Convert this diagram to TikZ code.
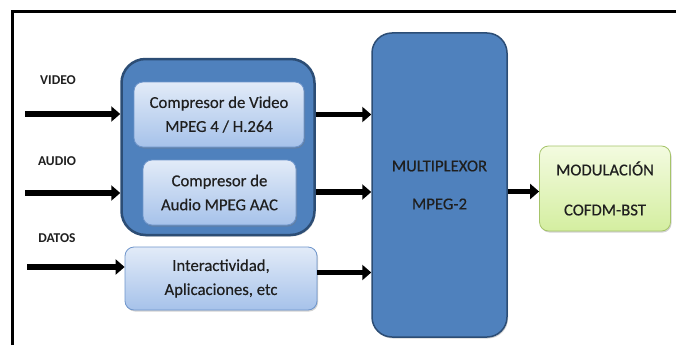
\documentclass[tikz,border=0pt]{standalone}
\usepackage{fontspec}
\setmainfont{Carlito}
\newfontfamily\medfont{Carlito}[FakeBold=0.35]
\usetikzlibrary{arrows.meta,shadows}
\definecolor{blueA}{HTML}{4F81BD}
\definecolor{blueEdge}{HTML}{2C4D75}
\definecolor{lightTop}{HTML}{E2EBF8}
\definecolor{lightBot}{HTML}{A6C2EA}
\definecolor{lightEdge}{HTML}{6E95CB}
\definecolor{greenTop}{HTML}{F3FBE0}
\definecolor{greenBot}{HTML}{D4EEA0}
\definecolor{greenEdge}{HTML}{A6C46A}
\definecolor{txt}{HTML}{1F1F1F}
\tikzset{
  x=1pt, y=-1pt,
  frameline/.style={line width=3pt, black},
  bigblue/.style={draw=blueEdge, fill=blueA, rectangle, inner sep=0pt,
    drop shadow={shadow xshift=1pt, shadow yshift=-1.5pt, opacity=0.35}},
  lightbox/.style={draw=lightEdge, line width=0.8pt, rectangle, rounded corners=9pt,
    top color=lightTop, bottom color=lightBot, inner sep=0pt, align=center,
    font=\medfont\fontsize{16.7}{24}\selectfont, text=txt,
    drop shadow={shadow xshift=1pt, shadow yshift=-1.5pt, opacity=0.35}},
  greenbox/.style={draw=greenEdge, line width=0.8pt, rectangle, rounded corners=9pt,
    top color=greenTop, bottom color=greenBot, inner sep=0pt, align=center,
    font=\medfont\fontsize{16.7}{40}\selectfont, text=txt,
    drop shadow={shadow xshift=1pt, shadow yshift=-1.5pt, opacity=0.35}},
  sigtag/.style={font=\bfseries\fontsize{13.5}{14}\selectfont, text=txt},
  flow/.style={line width=5.5pt, -{Triangle[length=9pt, width=15pt]}, shorten >=0pt}
}
\begin{document}
\begin{tikzpicture}
\useasboundingbox (0,0) rectangle (676,345);
\fill[white] (0,0) rectangle (676,345);

% outer frame (top and left edges)
\draw[frameline] (12,345) -- (12,12) -- (676,12);

% compression group
\node[bigblue, line width=2.5pt, rounded corners=24pt,
      minimum width=193pt, minimum height=176pt] (grupo) at (218,147) {};
\node[lightbox, minimum width=170pt, minimum height=65pt] (video) at (219,114.5)
  {Compresor de Video\\MPEG 4 / H.264};
\node[lightbox, minimum width=153pt, minimum height=65pt] (audio) at (219.5,192.5)
  {Compresor de\\Audio MPEG AAC};
\node[lightbox, minimum width=192pt, minimum height=63pt] (datos) at (221,278.5)
  {Interactividad,\\Aplicaciones, etc};

% multiplexer
\node[bigblue, line width=1.5pt, rounded corners=20pt,
      minimum width=135pt, minimum height=304pt, align=center,
      font=\medfont\fontsize{16.7}{38}\selectfont, text=txt] (mux) at (439.5,185)
  {MULTIPLEXOR\\MPEG-2};

% modulation
\node[greenbox, minimum width=131pt, minimum height=85pt] (mod) at (605,188.5)
  {MODULACIÓN\\COFDM-BST};

% input labels
\node[sigtag] (lv) at (58,80) {VIDEO};
\node[sigtag] (la) at (57,161) {AUDIO};
\node[sigtag] (ld) at (57,238) {DATOS};

% input arrows
\coordinate (inV) at (25,114);
\coordinate (inA) at (25,193);
\coordinate (inD) at (27,267);
\draw[flow] (inV) -- (inV -| grupo.west);
\draw[flow] (inA) -- (inA -| grupo.west);
\draw[flow] (inD) -- (inD -| datos.west);

% arrows into the multiplexer
\draw[flow] (grupo.east |- video) -- (mux.west |- video);
\draw[flow] ([yshift=0.5pt]grupo.east |- audio) -- ([yshift=0.5pt]mux.west |- audio);
\draw[flow] ([yshift=6pt]datos.east) -- ([yshift=6pt]mux.west |- datos);

% multiplexer to modulation
\draw[flow] ([yshift=-3pt]mux.east |- mod) -- ([yshift=-3pt]mod.west);
\end{tikzpicture}
\end{document}
